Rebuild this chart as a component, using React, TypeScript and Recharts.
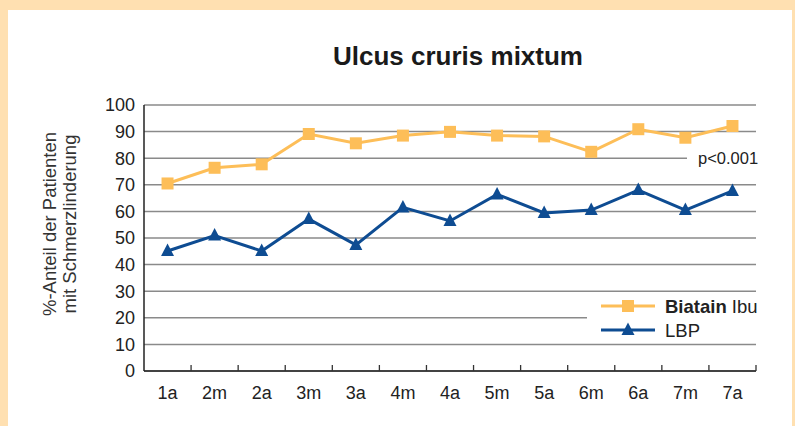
import React from 'react';
import { LineChart, Line, XAxis, YAxis, CartesianGrid, Customized } from 'recharts';

// Visit labels along the x axis
const visits = ['1a', '2m', '2a', '3m', '3a', '4m', '4a', '5m', '5a', '6m', '6a', '7m', '7a'];
// % of patients with pain relief
const biatainIbu = [70.5, 76.4, 77.7, 89.1, 85.6, 88.5, 89.9, 88.5, 88.2, 82.4, 90.9, 87.7, 92.1];
const lbp = [45.1, 50.9, 45.1, 57.1, 47.4, 61.5, 56.4, 66.4, 59.4, 60.5, 68, 60.5, 67.7];
const yTicks = [0, 10, 20, 30, 40, 50, 60, 70, 80, 90, 100];

const data = visits.map((v, i) => ({ visit: v, biatain: biatainIbu[i], lbp: lbp[i] }));

const ORANGE = '#FDBE58';
const BLUE = '#0E4C92';
const FONT = '"Liberation Sans", Arial, Helvetica, sans-serif';

const W = 795;
const H = 426;
const PLOT_LEFT = 144;
const PLOT_RIGHT = 756;
const PLOT_TOP = 105;
const PLOT_BOTTOM = 371;
const BAND = (PLOT_RIGHT - PLOT_LEFT) / visits.length;

const SquareDot = (props: any) => {
  const { cx, cy, index } = props;
  if (cx == null || cy == null) return null;
  return <rect key={`sq-${index}`} x={cx - 6} y={cy - 6} width={12} height={12} fill={ORANGE} />;
};

const TriangleDot = (props: any) => {
  const { cx, cy, index } = props;
  if (cx == null || cy == null) return null;
  return (
    <polygon
      key={`tr-${index}`}
      points={`${cx},${cy - 7.5} ${cx + 6.5},${cy + 5} ${cx - 6.5},${cy + 5}`}
      fill={BLUE}
    />
  );
};

const VisitTick = (props: any) => {
  const { x, payload } = props;
  const edge = x + BAND / 2;
  return (
    <g>
      <line x1={edge} x2={edge} y1={PLOT_BOTTOM} y2={PLOT_BOTTOM - 6} stroke="#333" strokeWidth={1.3} />
      <text x={x} y={399} textAnchor="middle" fontSize={18} fill="#222" fontFamily={FONT}>
        {payload.value}
      </text>
    </g>
  );
};

// white boxes for the p-value and the legend, they interrupt the grid lines
const Overlay = () => (
  <g fontFamily={FONT}>
    <defs>
      <clipPath id="panelClip">
        <rect x={0} y={0} width={PLOT_RIGHT + 1} height={H} />
      </clipPath>
    </defs>
    <rect x={687} y={149} width={80} height={18} fill="#fff" />
    <text x={698} y={164} fontSize={16.5} fill="#222">p&lt;0.001</text>

    <rect x={587} y={295} width={180} height={45} fill="#fff" />
    <g clipPath="url(#panelClip)">
      <line x1={601} x2={655} y1={306} y2={306} stroke={ORANGE} strokeWidth={3} />
      <rect x={622} y={300} width={12} height={12} fill={ORANGE} />
      <text x={665} y={312.5} fontSize={18.5} fill="#222">
        <tspan fontWeight="bold">Biatain</tspan> Ibu
      </text>
      <line x1={601} x2={655} y1={330} y2={330} stroke={BLUE} strokeWidth={3} />
      <polygon points="628,322.5 634.5,335 621.5,335" fill={BLUE} />
      <text x={665} y={336.5} fontSize={18.5} fill="#222">LBP</text>
    </g>
  </g>
);

export default function App() {
  return (
    <div style={{ position: 'absolute', left: 0, top: 0, width: W, height: H, background: '#FFE0B1', overflow: 'hidden' }}>
      <div style={{ position: 'absolute', left: 8, top: 10, width: 784, height: H - 10, background: '#fff' }} />
      <div style={{ position: 'absolute', left: 0, top: 0 }}>
        <LineChart
          width={W}
          height={H}
          data={data}
          margin={{ top: PLOT_TOP, right: W - PLOT_RIGHT, left: 0, bottom: 0 }}
        >
          <text x={458} y={65} textAnchor="middle" fontSize={26} fontWeight="bold" fill="#1a1a1a" fontFamily={FONT}>
            Ulcus cruris mixtum
          </text>
          <text
            transform="translate(56,224) rotate(-90)"
            textAnchor="middle"
            fontSize={18.5}
            fill="#333"
            fontFamily={FONT}
          >
            <tspan x={0} dy={0}>%-Anteil der Patienten</tspan>
            <tspan x={0} dy={20}>mit Schmerzlinderung</tspan>
          </text>
          <CartesianGrid horizontal vertical={false} stroke="#8a8a8a" strokeWidth={1.5} />
          <Customized component={Overlay} />
          <XAxis
            dataKey="visit"
            scale="band"
            height={H - PLOT_BOTTOM}
            axisLine={{ stroke: '#222', strokeWidth: 1.5 }}
            tickLine={false}
            tick={<VisitTick />}
            interval={0}
          />
          <YAxis
            domain={[0, 100]}
            ticks={yTicks}
            width={PLOT_LEFT}
            axisLine={{ stroke: '#222', strokeWidth: 1.5 }}
            tickLine={false}
            tickMargin={3}
            tick={{ fontSize: 18, fill: '#222', fontFamily: FONT }}
          />
          <Line
            dataKey="biatain"
            stroke={ORANGE}
            strokeWidth={3}
            dot={SquareDot}
            activeDot={false}
            isAnimationActive={false}
          />
          <Line
            dataKey="lbp"
            stroke={BLUE}
            strokeWidth={3}
            dot={TriangleDot}
            activeDot={false}
            isAnimationActive={false}
          />
        </LineChart>
      </div>
    </div>
  );
}
